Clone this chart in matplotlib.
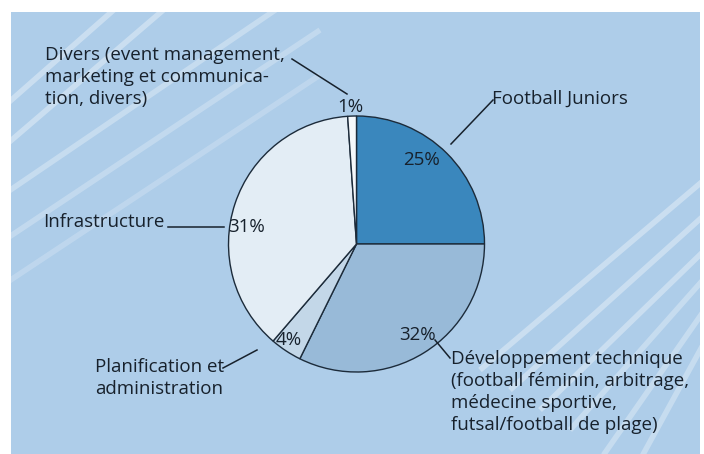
import matplotlib.pyplot as plt

plt.rcParams['font.family'] = ['Open Sans', 'DejaVu Sans']

categories = ["Football Juniors",
              "Développement technique\n(football féminin, arbitrage,\nmédecine sportive,\nfutsal/football de plage)",
              "Planification et\nadministration",
              "Infrastructure",
              "Divers (event management,\nmarketing et communica-\ntion, divers)"]
pct_labels = ["25%", "32%", "4%", "31%", "1%"]
# slice sizes as drawn in the picture (the printed figures add up to 93%)
sizes = [25, 32.3, 4, 37.6, 1.1]
colors = ["#3a87bd", "#98bad8", "#c3d7e8", "#e3edf5", "#f5f8fb"]

H = 454
fig = plt.figure(figsize=(7.04, 4.54), dpi=100)
fig.patch.set_facecolor("white")

# blue panel, pixel coordinates
bg = fig.add_axes([11 / 704, 0, 689 / 704, 442 / 454])
bg.set_facecolor("#aecde9")
bg.set_xlim(11, 700)
bg.set_ylim(0, 442)
bg.set_xticks([])
bg.set_yticks([])
for s in bg.spines.values():
    s.set_visible(False)
# decorative diagonal stripes
stripes = [((0, 110), (125, 0), 0.35), ((0, 150), (175, 0), 0.35), ((0, 197), (290, 0), 0.3),
           ((0, 243), (320, 30), 0.25), ((0, 287), (320, 75), 0.2),
           ((480, 370), (710, 175), 0.35), ((510, 390), (710, 210), 0.35),
           ((540, 410), (710, 245), 0.35), ((570, 430), (710, 272), 0.3),
           ((600, 460), (710, 302), 0.3), ((640, 460), (710, 332), 0.3)]
for (x0, y0), (x1, y1), a in stripes:
    bg.plot([x0, x1], [H - y0, H - y1], color="white", lw=4, alpha=a, solid_capstyle="butt")

ax = fig.add_axes([0, 0, 1, 1])
ax.set_xlim(0, 704)
ax.set_ylim(0, H)
ax.set_aspect("equal")
ax.axis("off")

cx, cy, r = 356.5, H - 244, 128
ax.pie(sizes, colors=colors, startangle=90, counterclock=False,
       center=(cx, cy), radius=r,
       wedgeprops=dict(edgecolor="#1c2b3a", linewidth=1.0))
ax.set_xlim(0, 704)
ax.set_ylim(0, H)

tc = "#17212c"
fs = 13.5
# percentage labels
pct_pos = [(422, 160), (417, 335), (289, 340), (247, 227), (350, 107)]
for t, (x, y) in zip(pct_labels, pct_pos):
    ax.text(x, H - y, t, ha="center", va="center", fontsize=fs, color=tc)

# category labels and leader lines
lab_pos = [(492, 99), (451, 392), (95, 378), (43, 222), (45, 77)]
leaders = [((493, 100), (451, 144)), ((450, 358), (435, 340)), ((223, 368), (257, 350)),
           ((168, 227), (224, 227)), ((292, 59), (347, 94))]
for t, (x, y), (p0, p1) in zip(categories, lab_pos, leaders):
    ax.text(x, H - y, t, ha="left", va="center", fontsize=fs, color=tc, linespacing=1.3)
    ax.plot([p0[0], p1[0]], [H - p0[1], H - p1[1]], color=tc, lw=1.1)

fig.savefig("out.png", dpi=100, facecolor=fig.get_facecolor())
